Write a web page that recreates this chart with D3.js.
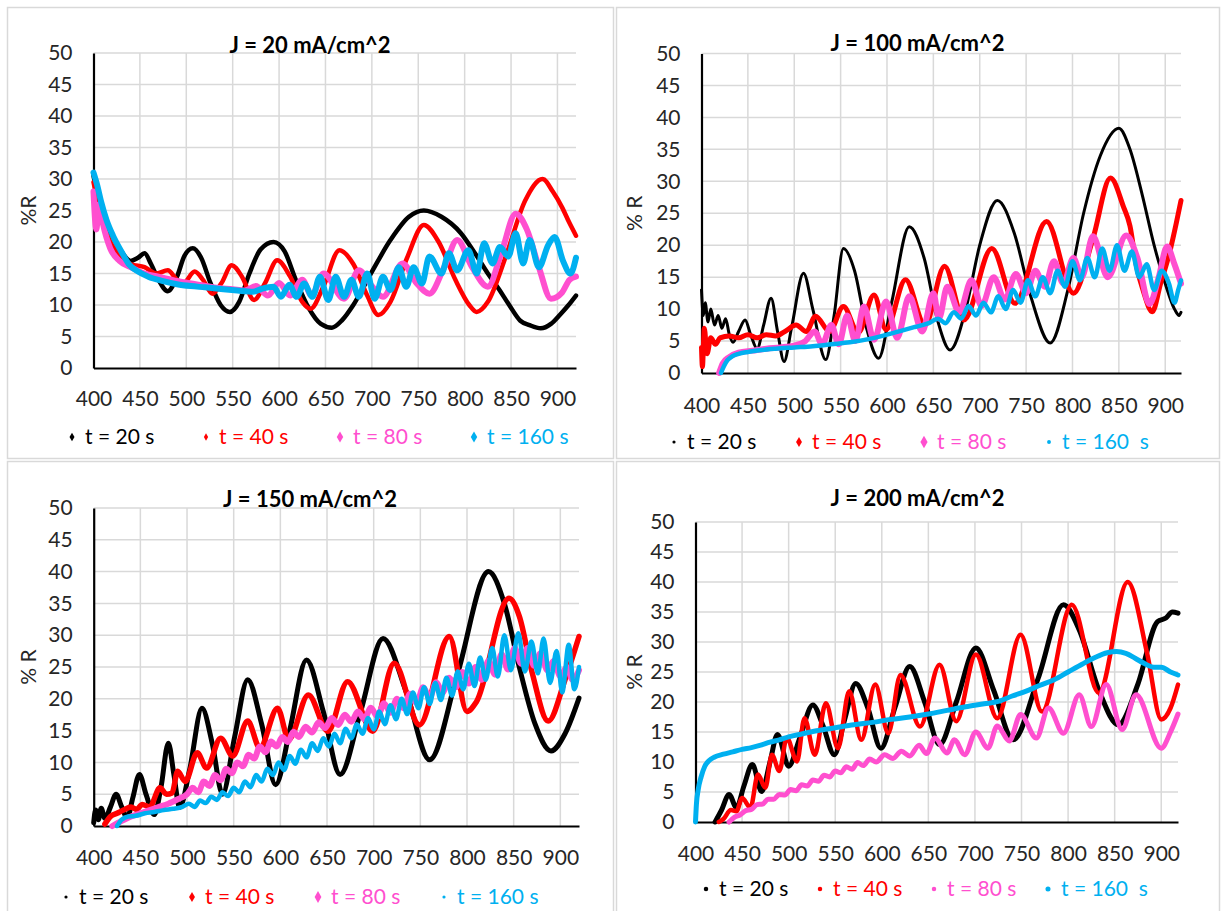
<!DOCTYPE html>
<html>
<head>
<meta charset="utf-8">
<script src="https://cdn.jsdelivr.net/npm/d3@7/dist/d3.min.js"></script>
<style>
  body { margin: 0; background: #fff; }
  svg text { font-family: Lato, "Liberation Sans", sans-serif; }
</style>
</head>
<body>
<svg id="chart" width="1223" height="911"></svg>
<script>
// ---- data: [wavelength nm, %R] ----
const xTicks = [400, 450, 500, 550, 600, 650, 700, 750, 800, 850, 900];
const yTicks = [0, 5, 10, 15, 20, 25, 30, 35, 40, 45, 50];
const titles = ["J = 20 mA/cm^2", "J = 100 mA/cm^2", "J = 150 mA/cm^2", "J = 200 mA/cm^2"];
const yTitles = ["%R", "% R", "% R", "% R"];
const namesA = ["t = 20 s", "t = 40 s", "t = 80 s", "t = 160 s"];
const namesB = ["t = 20 s", "t = 40 s", "t = 80 s", "t = 160  s"];
const colors = ["#000000", "#ff0000", "#ff4fcf", "#00b0f0"];

// J = 20
const j20_t20 = [[400,30.5],[405,27],[410,24.5],[415,22.5],[420,21],[430,18.5],[440,17],[448,17.5],[455,18.2],[462,16.5],[470,14],[480,12.2],[490,14.5],[498,17.8],[507,19],[516,17.5],[526,13.5],[537,10],[547,8.9],[557,10.5],[568,15],[580,18.8],[594,20],[606,18.5],[618,14],[632,9.5],[645,7],[657,6.4],[668,7.6],[680,10],[699,15],[720,20.3],[740,24],[756,25],[775,24],[796,21.4],[812,18],[825,15],[837,12.5],[848,10],[860,7.5],[870,6.8],[882,6.3],[893,7],[903,8.5],[912,10],[920,11.5]];
const j20_t40 = [[400,29.5],[405,26],[410,23],[418,20],[428,18],[440,16.5],[455,16],[468,15],[480,15.5],[490,14],[497,13.5],[509,15.3],[518,14],[528,11.8],[538,13.5],[549,16.3],[560,14.5],[573,10.8],[585,13.5],[598,17.1],[612,14.5],[625,10.5],[634,9.4],[648,13],[665,18.7],[680,16.5],[695,11.5],[707,8.4],[720,10.5],[738,17.5],[756,22.7],[772,20],[790,14],[805,10],[813,8.9],[825,10.5],[845,18],[865,26.5],[884,30],[895,28],[905,25.5],[913,23],[920,21]];
const j20_t80 = [[400,28],[403,22],[406,26],[410,23],[418,19],[428,17],[440,16],[455,15],[470,14.5],[490,13.8],[510,13.3],[530,12.8],[550,12.5],[563,12.3],[575,13],[588,11.5],[600,13.5],[612,11.5],[625,14],[635,11.5],[648,15],[670,11],[686,15.5],[700,13],[712,11.3],[733,16.6],[748,13.5],[762,11.8],[778,16],[792,20.3],[808,16],[825,12.9],[840,18.5],[855,24.5],[867,22],[880,16],[893,11],[905,12],[913,14],[920,14.5]];
const j20_t160 = [[400,31],[404,29],[408,26.5],[414,23.5],[421,21],[430,18.5],[438,16.5],[448,15.3],[459,14.5],[475,13.8],[490,13.3],[505,13],[520,12.8],[540,12.5],[555,12.3],[572,12.1],[582,12.6],[594,12.9],[602,11.3],[611,13.2],[619,11.3],[627,13.4],[636,11.3],[644,14.5],[653,10.8],[661,14.5],[670,11.3],[678,14],[686,11.3],[695,15],[703,11],[712,14.5],[720,12.4],[729,16],[737,12.9],[745,16],[754,13.4],[762,17.7],[775,15],[783,18.2],[792,15.5],[804,18.7],[813,15],[821,19.8],[830,16.6],[838,19.2],[847,17.7],[855,21.4],[863,16.6],[870,20.3],[880,16],[890,19.5],[897,20.8],[906,17],[914,15],[920,17.5]];

// J = 100
const j100_t20 = [[400,13],[402,9],[404,11],[407,8],[410,10],[414,7.5],[418,9],[422,7],[426,8.5],[430,6],[434,4.8],[440,6.5],[447,8.3],[453,6],[460,3.8],[467,7.5],[475,11.7],[482,6.5],[489,1.8],[497,7],[510,15.6],[520,10],[534,2.1],[543,9],[553,19.5],[565,16],[578,7],[591,2.3],[605,11],[624,22.9],[640,18],[655,8],[668,3.6],[685,10],[700,20],[719,27],[737,22],[755,12],[776,4.7],[795,13],[812,25],[830,34],[850,38.3],[862,35],[875,28],[888,20],[900,14],[910,10],[915,9],[917,9.5]];
const j100_t40 = [[400,4],[401,1],[403,7],[406,3],[410,5.5],[415,4.5],[420,5.5],[430,5.8],[440,5.5],[450,6],[460,5.5],[470,6],[480,5.8],[490,6.5],[502,7.5],[513,6.5],[523,8.9],[538,6.5],[553,10.4],[569,6.3],[586,12.2],[599,6.8],[620,14.6],[641,7.5],[662,16.7],[683,8.3],[713,19.5],[738,10.9],[772,23.7],[801,12.5],[822,21],[841,30.5],[855,26],[862,23],[869,16.7],[876,13],[886,9.6],[895,14],[905,19],[912,23.5],[917,27]];
const j100_t80 = [[419,0],[423,1.5],[430,2.5],[440,3.2],[455,3.5],[470,3.8],[485,4],[500,4.3],[512,5],[522,6.5],[530,4.5],[540,7.5],[548,4.5],[557,9],[566,5],[575,10.4],[586,5.2],[599,11.2],[611,5.5],[624,12],[638,6.5],[650,12.5],[656,8.5],[665,13.5],[678,9.5],[691,14.5],[702,10.5],[715,15],[727,11.5],[739,15.5],[750,12.5],[760,16],[770,13.5],[780,17.5],[790,14],[801,18],[810,15],[822,21.4],[838,15],[858,21.5],[870,18],[883,10.8],[893,15],[902,19.8],[910,17],[917,14]];
const j100_t160 = [[421,0],[424,1],[428,2],[433,2.6],[440,3],[450,3.3],[465,3.6],[480,3.8],[500,4],[520,4.2],[540,4.5],[560,4.8],[580,5.3],[600,6],[615,6.6],[630,7.2],[645,7.8],[655,8.5],[663,7.8],[672,9.5],[680,8.5],[688,10.5],[696,9],[704,11],[712,9.5],[720,12],[728,10],[736,13],[744,11],[752,14.5],[760,12],[768,15],[776,12.5],[784,16],[792,13.5],[800,17.5],[808,14.5],[816,18],[824,15],[832,19.5],[840,16],[848,20],[856,16],[864,19],[872,15],[880,17],[888,13],[896,16],[904,14],[910,11],[914,13],[917,14.5]];

// J = 150
const j150_t20 = [[400,0.5],[402,2.5],[405,1],[408,2.8],[412,1.2],[418,3],[424,5],[430,3],[436,1.3],[442,4.5],[449,8.1],[456,5],[465,1.8],[472,6],[480,13],[486,8],[492,2.9],[503,9],[516,18.5],[527,13],[538,5],[551,14],[565,23],[580,16],[595,6.5],[610,15],[628,26.1],[646,18],[664,8.1],[686,18],[710,29.5],[735,21],[760,10.4],[790,24],[823,40],[840,35],[856,25],[873,16],[890,11.8],[905,14.5],[920,20.1]];
const j150_t40 = [[412,0.3],[418,1.5],[425,2],[432,2.5],[440,3],[446,2.6],[452,3.4],[460,3],[471,6],[478,5],[484,5.2],[490,8.6],[498,7],[511,11.5],[521,9.1],[536,13.8],[549,11],[565,16.5],[578,12.3],[597,18.5],[609,13.6],[630,20.6],[651,14.9],[672,22.7],[699,14.9],[722,25.6],[749,15.9],[781,29.8],[800,18],[810,19.5],[845,35.8],[856,33],[870,24],[887,16.5],[905,23],[920,29.8]];
const j150_t80 = [[420,0],[430,0.8],[440,1.5],[450,2],[460,2.5],[470,3],[480,3.5],[490,4.2],[500,5],[506,6],[512,5.3],[518,7],[524,6.3],[530,8],[536,7.2],[542,9],[548,8.3],[554,10],[560,9.4],[566,11.2],[572,10.6],[578,12.5],[584,11.6],[590,13.3],[596,12.5],[602,14],[608,13.2],[614,14.8],[620,14],[627,15.6],[634,14.7],[641,16.3],[648,15.4],[655,17],[662,15.9],[669,17.5],[676,16.4],[683,18],[690,16.8],[697,18.6],[704,17.2],[711,19.3],[718,17.8],[725,20],[732,18.5],[739,20.8],[746,19.3],[753,21.8],[760,20.2],[767,22.6],[774,21],[781,23.3],[788,21.8],[795,24.2],[802,22.4],[809,25],[816,23],[823,26],[830,23.8],[837,27],[844,24.6],[851,28],[858,25.5],[865,28],[872,25.2],[879,27.2],[886,24.5],[893,26],[900,23.5],[907,25],[913,23],[920,24.5]];
const j150_t160 = [[425,0],[430,1],[437,1.5],[445,1.6],[455,2],[465,2.2],[475,2.5],[485,2.7],[495,3],[502,3.5],[508,3],[514,4],[520,3.6],[526,4.6],[532,4.1],[538,5.3],[544,4.7],[550,6],[556,5.3],[562,7],[568,6.1],[574,8],[580,7],[586,9],[592,8],[598,10],[604,8.8],[610,11],[616,9.8],[622,12],[628,10.8],[634,13],[640,11.8],[646,13.8],[652,12.5],[658,14.5],[664,13],[670,15.3],[676,13.8],[682,16],[688,14.5],[694,17],[700,15.2],[706,18],[712,16],[718,19],[724,16.8],[730,20],[736,17.6],[742,21],[748,18.5],[754,21.8],[760,19.2],[766,22.5],[772,19.8],[778,23.3],[784,20.5],[790,24.3],[796,21.5],[802,25.5],[808,22],[814,26.5],[820,23],[827,28],[833,23.5],[840,30],[847,24.5],[855,30.3],[862,24.3],[869,29],[876,24],[882,29.5],[889,22.5],[896,27.5],[902,21],[909,28.5],[915,21.5],[920,25]];

// J = 200
const j200_t20 = [[421,0],[428,2],[436,4.6],[444,2.4],[452,6],[461,9.6],[471,5.1],[480,10],[488,14.6],[500,9.3],[512,14],[526,19.5],[537,16],[549,11.2],[560,17],[572,23.1],[585,19],[599,12.3],[614,19],[630,25.9],[646,20],[662,12.9],[680,20],[701,29],[720,22],[741,13.7],[768,24],[795,36.2],[812,32],[833,22],[854,16.2],[875,23],[896,33.4],[905,34],[912,35],[918,34.8]];
const j200_t40 = [[425,0],[430,0.5],[438,2],[444,1.8],[450,4],[459,2.4],[467,7.9],[475,5.7],[482,11.2],[490,8.5],[498,14],[509,10.1],[517,17.3],[528,11.2],[540,19.8],[553,12.3],[565,21.8],[578,13.7],[593,22.9],[607,14.8],[620,24.5],[641,15.9],[662,26.2],[680,16.8],[701,27.9],[724,17.3],[749,31.2],[772,18.4],[804,36.2],[833,21.5],[864,40],[885,28],[900,17.1],[910,19],[918,22.9]];
const j200_t80 = [[436,0],[442,0.8],[448,1.2],[454,1.9],[460,2.1],[466,2.9],[472,3],[478,3.8],[484,3.8],[490,4.6],[496,4.5],[502,5.4],[508,5.2],[514,6.2],[520,6],[526,7],[532,6.8],[538,7.8],[544,7.5],[550,8.5],[556,8.2],[562,9.2],[568,8.8],[574,9.9],[580,9.4],[587,10.5],[594,10],[603,11.2],[612,10.6],[621,11.8],[630,11],[640,12.8],[648,11.4],[657,14],[670,11.5],[678,13.7],[689,11.2],[701,15],[714,12.3],[724,16],[737,13.5],[749,17.9],[766,14],[779,19],[795,14.8],[812,21.2],[825,15.9],[841,22.9],[858,15.4],[873,21.2],[900,12.3],[910,15],[918,18]];
const j200_t160 = [[400,0],[401,3],[403,5.5],[406,7.5],[410,9.3],[415,10.3],[420,10.8],[430,11.3],[440,11.7],[450,12.1],[460,12.4],[470,12.8],[480,13.3],[490,13.7],[500,14.2],[515,14.7],[530,15.2],[550,15.7],[570,16.2],[590,16.6],[610,17.1],[630,17.5],[650,18],[670,18.6],[690,19.2],[710,19.7],[725,20.1],[740,21],[755,21.8],[770,22.8],[785,23.7],[800,25],[815,26.3],[830,27.5],[842,28.2],[852,28.4],[862,28.1],[872,27.3],[882,26.4],[892,25.8],[900,25.8],[910,25],[918,24.5]];

// ---- layout of the four chart areas ----
const panels = [
  { series: [j20_t20, j20_t40, j20_t80, j20_t160], names: namesA, title: titles[0], ytitle: yTitles[0],
    box: [7, 7, 613, 458], xr: [93.5, 576], yr: [368, 53], xMax: 920,
    titleY: 45, ytX: 29, xPad: 23, legY: 437, legX: 72, legStep: 134,
    widths: [4.5, 4.5, 6, 6], marks: [["d", 22], ["d", 16], ["d", 36], ["d", 36]] },
  { series: [j100_t20, j100_t40, j100_t80, j100_t160], names: namesB, title: titles[1], ytitle: yTitles[1],
    box: [616, 7, 1219, 458], xr: [701.5, 1181], yr: [373, 53.5], xMax: 917,
    titleY: 43, ytX: 635, xPad: 25, legY: 442, legX: 674, legStep: 125,
    widths: [3, 5, 6, 4.5], marks: [["c", 8], ["d", 30], ["d", 45], ["c", 12]] },
  { series: [j150_t20, j150_t40, j150_t80, j150_t160], names: namesA, title: titles[2], ytitle: yTitles[2],
    box: [7, 461, 613, 913], xr: [93.7, 579], yr: [826, 508], xMax: 920,
    titleY: 499, ytX: 29, xPad: 24, legY: 897, legX: 66, legStep: 126,
    widths: [5, 5.5, 6, 4.5], marks: [["c", 8], ["d", 30], ["d", 40], ["c", 8]] },
  { series: [j200_t20, j200_t40, j200_t80, j200_t160], names: namesB, title: titles[3], ytitle: yTitles[3],
    box: [616, 461, 1219, 913], xr: [695.5, 1178], yr: [822, 522], xMax: 918,
    titleY: 498, ytX: 635, xPad: 24, legY: 889, legX: 706, legStep: 114,
    widths: [5, 4.5, 5, 5], marks: [["c", 16], ["c", 16], ["c", 16], ["c", 20]] }
];

const svg = d3.select("#chart");
const grid = "#d9d9d9";
const ink = "#262626";

panels.forEach(p => {
  const g = svg.append("g");
  const [bx0, by0, bx1, by1] = p.box;

  g.append("rect")
    .attr("x", bx0 + 0.5).attr("y", by0 + 0.5)
    .attr("width", bx1 - bx0).attr("height", by1 - by0)
    .attr("fill", "#fff").attr("stroke", grid).attr("stroke-width", 1.5);

  const x = d3.scaleLinear().domain([400, p.xMax]).range(p.xr);
  const y = d3.scaleLinear().domain([0, 50]).range(p.yr);

  // gridlines
  g.append("g").selectAll("line")
    .data(yTicks.filter(v => v > 0)).join("line")
    .attr("x1", p.xr[0]).attr("x2", p.xr[1])
    .attr("y1", d => y(d)).attr("y2", d => y(d))
    .attr("stroke", grid).attr("stroke-width", 1.5);
  g.append("g").selectAll("line")
    .data(xTicks.filter(v => v > 400)).join("line")
    .attr("x1", d => x(d)).attr("x2", d => x(d))
    .attr("y1", p.yr[0]).attr("y2", p.yr[1])
    .attr("stroke", grid).attr("stroke-width", 1.5);

  // axes
  const yAxis = g.append("g").attr("transform", `translate(${p.xr[0]},0)`)
    .call(d3.axisLeft(y).tickValues(yTicks).tickSize(0).tickPadding(21));
  const xAxis = g.append("g").attr("transform", `translate(0,${p.yr[0]})`)
    .call(d3.axisBottom(x).tickValues(xTicks).tickSize(0).tickPadding(p.xPad));
  [yAxis, xAxis].forEach(a => {
    a.select(".domain").attr("stroke", "#000").attr("stroke-width", 2.2);
    a.selectAll("text").attr("fill", ink).style("font-size", "21px");
  });

  // series
  const line = d3.line().x(d => x(d[0])).y(d => y(d[1])).curve(d3.curveMonotoneX);
  p.series.forEach((s, i) => {
    g.append("path")
      .attr("d", line(s))
      .attr("fill", "none")
      .attr("stroke", colors[i])
      .attr("stroke-width", p.widths[i])
      .attr("stroke-linejoin", "round")
      .attr("stroke-linecap", "round");
  });

  // titles
  g.append("text")
    .attr("x", (bx0 + bx1) / 2).attr("y", p.titleY)
    .attr("text-anchor", "middle").attr("dy", "0.35em")
    .attr("fill", "#000").style("font-size", "22px").style("font-weight", "bold")
    .text(p.title);
  g.append("text")
    .attr("transform", `translate(${p.ytX},${(p.yr[0] + p.yr[1]) / 2}) rotate(-90)`)
    .attr("text-anchor", "middle").attr("dy", "0.35em")
    .attr("fill", ink).style("font-size", "21px")
    .text(p.ytitle);

  // legend
  const leg = g.append("g").selectAll("g")
    .data(p.names).join("g")
    .attr("transform", (d, i) => `translate(${p.legX + i * p.legStep},${p.legY})`);
  leg.append("path")
    .attr("d", (d, i) => d3.symbol()
      .type(p.marks[i][0] === "d" ? d3.symbolDiamond : d3.symbolCircle)
      .size(p.marks[i][1])())
    .attr("fill", (d, i) => colors[i]);
  leg.append("text")
    .attr("x", 13).attr("dy", "0.35em")
    .attr("fill", (d, i) => i === 0 ? "#000" : colors[i])
    .style("font-size", "21px").style("white-space", "pre")
    .text(d => d);
});
</script>
</body>
</html>
